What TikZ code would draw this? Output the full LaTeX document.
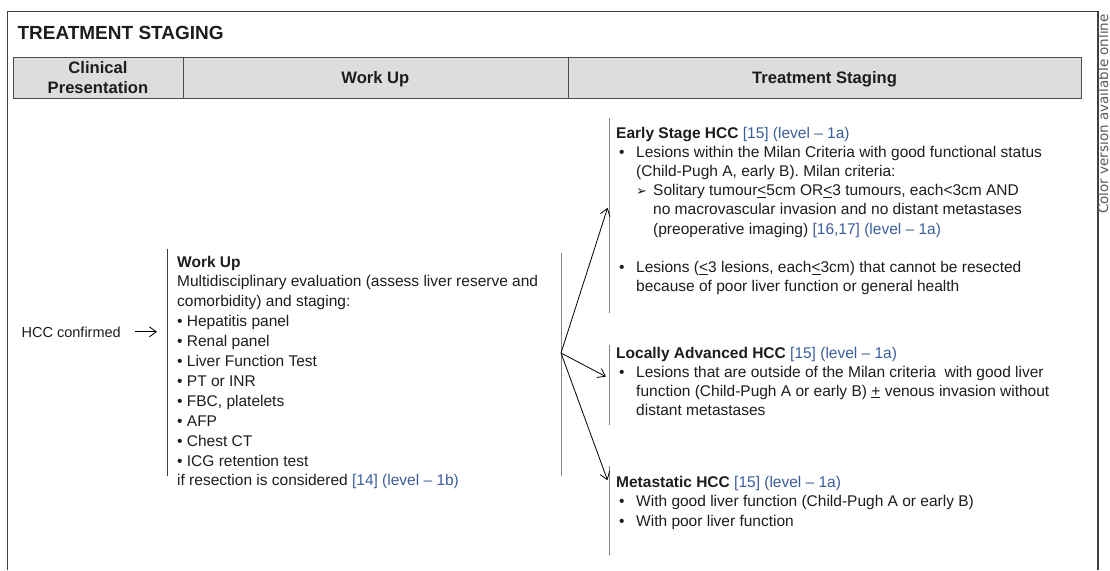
\documentclass[tikz,border=0pt]{standalone}
\usepackage{fontspec}
\setmainfont{Liberation Sans}
\newfontfamily\symfont{DejaVu Sans}
\usetikzlibrary{positioning, arrows.meta}

\definecolor{refblue}{RGB}{59,94,155}
\definecolor{inkgray}{RGB}{30,28,28}
\definecolor{headgray}{RGB}{220,221,222}

\newcommand{\lvl}[1]{\textcolor{refblue}{#1}}
\newcommand{\bul}{\makebox[20pt][l]{\hspace{3pt}•}}
\newcommand{\ind}{\hspace*{20pt}}
\newcommand{\subarr}{\makebox[17pt][l]{{\symfont\fontsize{13}{13}\selectfont ➢}}}
\newcommand{\uleq}{\underline{<}}

\begin{document}
\begin{tikzpicture}[
        x=1pt, y=-1pt,
        >={Straight Barb[length=7pt, width=10pt]},
        txt/.style={anchor=base west, inner sep=0pt, text=inkgray, font=\fontsize{15.5}{19}\selectfont},
        head/.style={draw=black!70, fill=headgray, minimum height=41pt, inner sep=0pt, text depth=0pt, align=center, text=inkgray, font=\bfseries\fontsize{16.6}{20}\selectfont},
        bar/.style={draw=black!75, line width=1pt, minimum width=0pt, inner sep=0pt},
    ]
    \useasboundingbox (0,0) rectangle (1110,570);

        % Draw the outer frame and the title
        \draw[black!75, line width=1.2pt] (7.3,570) -- (7.3,11.7) -- (1098,11.7) -- (1098,570);
        \node[anchor=base west, inner sep=0pt, text=inkgray, font=\bfseries\fontsize{19}{19}\selectfont] (title) at (17.3,39.5) {TREATMENT STAGING};
        \node[rotate=90, anchor=base east, inner sep=0pt, text=black!65, font=\symfont\fontsize{13.5}{14}\selectfont] (note) at (1108,14) {Color version available online};

        % Draw the header row
        \foreach \name/\x/\w/\txt in {clin/98/169.4/{Clinical\\Presentation}, work/375.35/385.3/{Work Up}, stage/824.5/513/{Treatment Staging}}
            \node[head, minimum width=\w*1pt] (H-\name) at (\x,77.2) {\txt};

        % Draw the bars beside each block
        \foreach \name/\x/\ya/\yb in {wl/167.5/249/476, wr/561/253/476, early/609/118/313, local/609/345/425, meta/609/466/555}
            \node[bar, minimum height={(\yb-\ya)*1pt}] (B-\name) at (\x,{(\ya+\yb)/2}) {};

        % Clinical presentation
        \node[txt, anchor=base east, font=\fontsize{14.5}{17}\selectfont] (hcc) at (121,337) {HCC confirmed};

        % Work up list
        \foreach \txt [count=\i] in {{\textbf{Work Up}},
                {Multidisciplinary evaluation (assess liver reserve and},
                {comorbidity) and staging:},
                {• Hepatitis panel}, {• Renal panel}, {• Liver Function Test}, {• PT or INR},
                {• FBC, platelets}, {• AFP}, {• Chest CT}, {• ICG retention test},
                {if resection is considered \lvl{[14] (level – 1b)}}}
            \node[txt] (W-\i) at (177, {267+19.9*(\i-1)}) {\txt};

        % Early stage block
        \foreach \k/\txt in {0/{\textbf{Early Stage HCC} \lvl{[15] (level – 1a)}},
                1/{\bul Lesions within the Milan Criteria with good functional status},
                2/{\ind(Child-Pugh A, early B). Milan criteria:},
                3/{\ind\subarr Solitary tumour\uleq5cm OR\uleq3 tumours, each<3cm AND},
                4/{\hspace*{37pt}no macrovascular invasion and no distant metastases},
                5/{\hspace*{37pt}(preoperative imaging) \lvl{[16,17] (level – 1a)}},
                7/{\bul Lesions (\uleq3 lesions, each\uleq3cm) that cannot be resected},
                8/{\ind because of poor liver function or general health}}
            \node[txt] (E-\k) at (616, {138+19.2*\k}) {\txt};

        % Locally advanced block
        \foreach \k/\txt in {0/{\textbf{Locally Advanced HCC} \lvl{[15] (level – 1a)}},
                1/{\bul Lesions that are outside of the Milan criteria\ \ with good liver},
                2/{\ind function (Child-Pugh A or early B) \underline{+} venous invasion without},
                3/{\ind distant metastases}}
            \node[txt] (L-\k) at (616, {358+19*\k}) {\txt};

        % Metastatic block
        \foreach \k/\txt in {0/{\textbf{Metastatic HCC} \lvl{[15] (level – 1a)}},
                1/{\bul With good liver function (Child-Pugh A or early B)},
                2/{\bul With poor liver function}}
            \node[txt] (M-\k) at (616, {487+19.5*\k}) {\txt};

        % Connect presentation to work up, and work up to every stage
        \draw[->, line width=0.8pt, shorten <=14pt, shorten >=10pt] (hcc.east) -- (hcc.east -| B-wl.west);
        \coordinate (fan) at (561,353);
        \foreach \dest/\dy in {early/10.5pt, local/7pt, meta/27.5pt}
            \draw[->, line width=0.8pt, shorten >=3pt] (fan) -- ([yshift=\dy]B-\dest.west);
\end{tikzpicture}
\end{document}
